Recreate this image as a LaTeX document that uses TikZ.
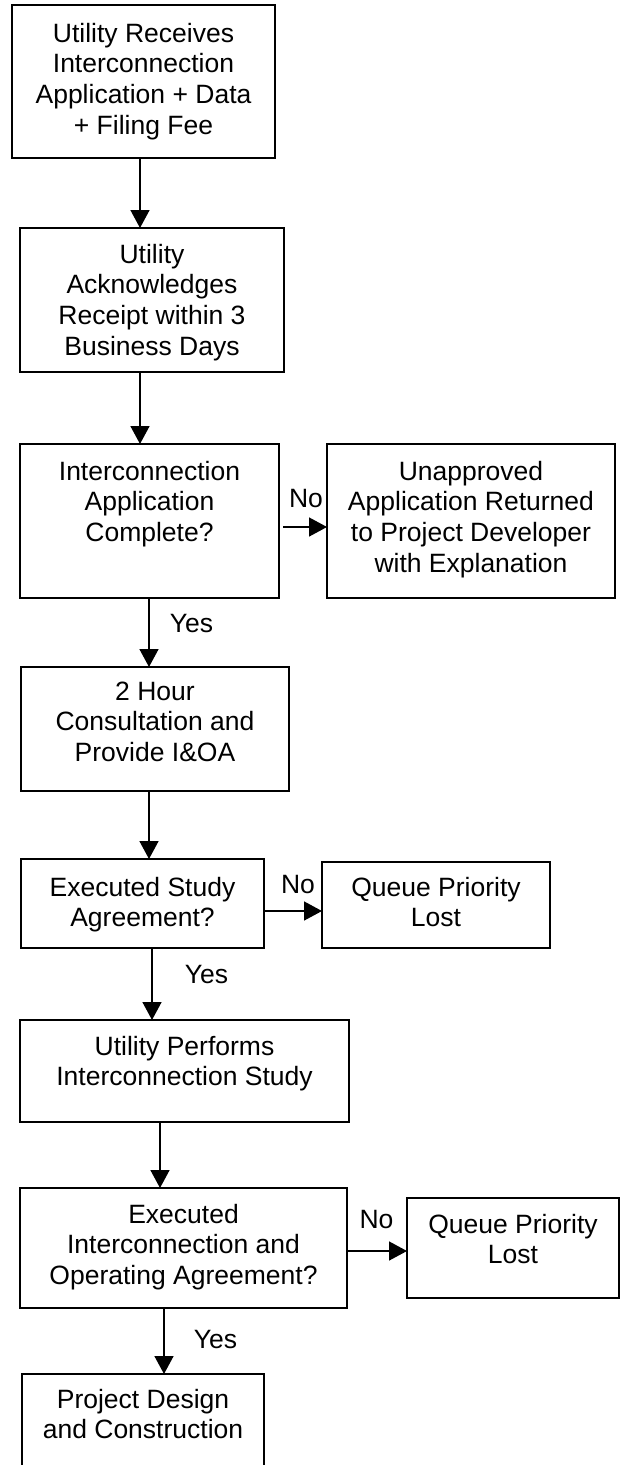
\documentclass[tikz,border=0pt]{standalone}
\usepackage{fontspec}
\setmainfont{Liberation Sans}
\usetikzlibrary{arrows.meta}
\newcommand{\boxtxt}[4]{\parbox[c][#2][t]{#1}{\centering\rule{0pt}{#3}#4\par}}
\begin{document}
\begin{tikzpicture}[x=1pt,y=-1pt,
  flowbox/.style={draw=black, line width=1.5pt, inner sep=0pt, outer sep=0pt,
    font=\fontsize{26.5}{30.8}\selectfont},
  arr/.style={draw=black, line width=1.5pt, -{Triangle[length=18pt,width=19pt]}},
  lbl/.style={inner sep=0pt, anchor=base, font=\fontsize{26.5}{30.8}\selectfont}]
\useasboundingbox (0,0) rectangle (623,1465);
\clip (0,0) rectangle (623,1465);
\fill[white] (0,0) rectangle (623,1465);

% boxes
\node[flowbox] (b1) at (143.5,81.5) {\boxtxt{263pt}{153pt}{37pt}{Utility Receives\\Interconnection\\Application + Data\\+ Filing Fee}};
\node[flowbox] (b2) at (152,300) {\boxtxt{264pt}{144pt}{35pt}{Utility\\Acknowledges\\Receipt within 3\\Business Days}};
\node[flowbox] (b3) at (149.5,521) {\boxtxt{259pt}{154pt}{36pt}{Interconnection\\Application\\Complete?}};
\node[flowbox] (r1) at (471,521) {\boxtxt{288pt}{154pt}{36pt}{Unapproved\\Application Returned\\to Project Developer\\with Explanation}};
\node[flowbox] (b4) at (155,729) {\boxtxt{268pt}{124pt}{33pt}{2 Hour\\Consultation and\\Provide I\&OA}};
\node[flowbox] (b5) at (142.5,903.5) {\boxtxt{243pt}{89pt}{37pt}{Executed Study\\Agreement?}};
\node[flowbox] (r2) at (436,905) {\boxtxt{228pt}{86pt}{34pt}{Queue Priority\\Lost}};
\node[flowbox] (b6) at (184.5,1071) {\boxtxt{329pt}{102pt}{35pt}{Utility Performs\\Interconnection Study}};
\node[flowbox] (b7) at (183.5,1248) {\boxtxt{327pt}{120pt}{35pt}{Executed\\Interconnection and\\Operating Agreement?}};
\node[flowbox] (r3) at (513,1248) {\boxtxt{212pt}{100pt}{35pt}{Queue Priority\\Lost}};
\node[flowbox] (b8) at (143,1434) {\boxtxt{242pt}{120pt}{34pt}{Project Design\\and Construction}};

% connector guide coordinates
\coordinate (ax1) at (140,0);
\coordinate (ax2) at (140,0);
\coordinate (ax3) at (149,0);
\coordinate (ax4) at (149,0);
\coordinate (ax5) at (152,0);
\coordinate (ax6) at (160,0);
\coordinate (ax7) at (164,0);
\coordinate (ay1) at (0,527);
\coordinate (ay2) at (0,911);
\coordinate (ay3) at (0,1251);

% vertical connectors
\draw[arr] (b1.south -| ax1) -- (b2.north -| ax1);
\draw[arr] (b2.south -| ax2) -- (b3.north -| ax2);
\draw[arr] (b3.south -| ax3) -- (b4.north -| ax3);
\draw[arr] (b4.south -| ax4) -- (b5.north -| ax4);
\draw[arr] (b5.south -| ax5) -- (b6.north -| ax5);
\draw[arr] (b6.south -| ax6) -- (b7.north -| ax6);
\draw[arr] (b7.south -| ax7) -- (b8.north -| ax7);

% horizontal connectors
\draw[arr] ([xshift=4pt]b3.east |- ay1) -- (r1.west |- ay1);
\draw[arr] (b5.east |- ay2) -- (r2.west |- ay2);
\draw[arr] (b7.east |- ay3) -- (r3.west |- ay3);

% labels
\node[lbl] (no1) at (306,507) {No};
\node[lbl] (yes1) at (191.5,632) {Yes};
\node[lbl] (no2) at (298,893) {No};
\node[lbl] (yes2) at (206.5,983) {Yes};
\node[lbl] (no3) at (376.5,1228) {No};
\node[lbl] (yes3) at (215.5,1348) {Yes};
\end{tikzpicture}
\end{document}
